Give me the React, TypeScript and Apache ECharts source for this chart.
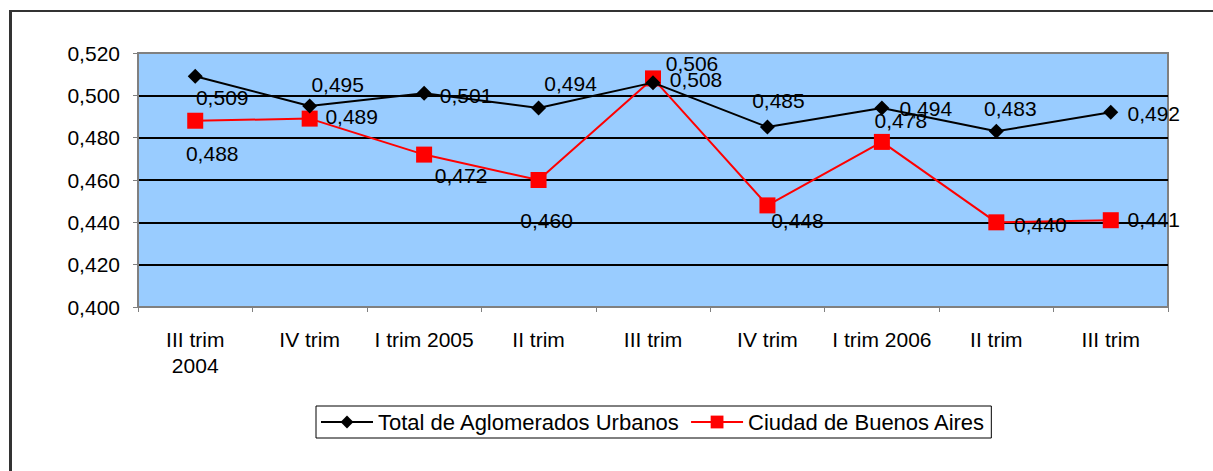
import React, { useEffect, useRef } from "react";
import * as echarts from "echarts";

const categories = [
  "III trim\n2004",
  "IV trim",
  "I trim 2005",
  "II trim",
  "III trim",
  "IV trim",
  "I trim 2006",
  "II trim",
  "III trim",
];
const totalAglomerados = [0.509, 0.495, 0.501, 0.494, 0.506, 0.485, 0.494, 0.483, 0.492];
const ciudadBuenosAires = [0.488, 0.489, 0.472, 0.46, 0.508, 0.448, 0.478, 0.44, 0.441];
const yTicks = { min: 0.4, max: 0.52, interval: 0.02 };

// label placement (styling only)
const totalLabelOffsets = [
  [27, 21], [28, -21], [42, 2], [32, -25], [39, -19], [11, -27], [44, 0], [14, -23], [43, 1],
];
const ciudadLabelOffsets = [
  [17, 33], [42, -2], [37, 21], [8, 40], [43, 1], [30, 15], [19, -21], [44, 2], [43, -1],
];

const FONT = "'Liberation Sans', Arial, sans-serif";
const fmt = (v: number) => v.toFixed(3).replace(".", ",");

export default function App() {
  const ref = useRef<HTMLDivElement>(null);
  useEffect(() => {
    if (!ref.current) return;
    const chart = echarts.init(ref.current, null, { renderer: "svg" });
    const mk = (vals: number[], offs: number[][]) =>
      vals.map((v, i) => ({
        value: v,
        label: { offset: offs[i] },
      }));
    chart.setOption({
      animation: false,
      backgroundColor: "#ffffff",
      textStyle: { fontFamily: FONT },
      grid: {
        left: 138,
        top: 53,
        right: 45,
        bottom: 164,
        show: true,
        backgroundColor: "#99CCFF",
        borderColor: "#808080",
        borderWidth: 2,
      },
      graphic: [
        { type: "line", shape: { x1: 10.5, y1: 10, x2: 10.5, y2: 480 }, style: { stroke: "#333", lineWidth: 3 } },
        { type: "line", shape: { x1: 9, y1: 11, x2: 1220, y2: 11 }, style: { stroke: "#333", lineWidth: 2 } },
      ],
      legend: {
        left: 316,
        top: 406,
        padding: [5, 6, 5, 4],
        borderColor: "#000",
        borderWidth: 1,
        itemWidth: 52,
        itemHeight: 16,
        itemGap: 10,
        textStyle: { fontSize: 22, color: "#000", fontFamily: FONT },
        data: ["Total de Aglomerados Urbanos", "Ciudad de Buenos Aires"],
      },
      xAxis: {
        type: "category",
        data: categories,
        boundaryGap: true,
        axisLine: { lineStyle: { color: "#808080", width: 2 } },
        axisTick: { show: true, length: 5, lineStyle: { color: "#808080", width: 1 } },
        axisLabel: { fontSize: 21, color: "#000", margin: 19, lineHeight: 26, fontFamily: FONT, interval: 0 },
        splitLine: { show: false },
      },
      yAxis: {
        type: "value",
        min: yTicks.min,
        max: yTicks.max,
        interval: yTicks.interval,
        axisLine: { show: true, lineStyle: { color: "#808080", width: 1 } },
        axisTick: { show: true, length: 5, lineStyle: { color: "#808080" } },
        axisLabel: { fontSize: 21, color: "#000", margin: 18, fontFamily: FONT, formatter: (v: number) => fmt(v) },
        splitLine: {
          show: true,
          lineStyle: {
            color: ["#808080", "#000", "#000", "#000", "#000", "#000", "#808080"],
            width: 2,
          },
        },
      },
      series: [
        {
          name: "Total de Aglomerados Urbanos",
          type: "line",
          data: mk(totalAglomerados, totalLabelOffsets),
          symbol: "diamond",
          symbolSize: 15,
          itemStyle: { color: "#000" },
          lineStyle: { color: "#000", width: 2 },
          z: 3,
          label: {
            show: true,
            position: "inside",
            fontSize: 21,
            color: "#000",
            fontFamily: FONT,
            formatter: (p: any) => fmt(p.value),
          },
        },
        {
          name: "Ciudad de Buenos Aires",
          type: "line",
          data: mk(ciudadBuenosAires, ciudadLabelOffsets),
          symbol: "rect",
          symbolSize: 16,
          itemStyle: { color: "#FF0000" },
          lineStyle: { color: "#FF0000", width: 2 },
          z: 2,
          label: {
            show: true,
            position: "inside",
            fontSize: 21,
            color: "#000",
            fontFamily: FONT,
            formatter: (p: any) => fmt(p.value),
          },
        },
      ],
    });
    return () => chart.dispose();
  }, []);
  return (
    <div
      ref={ref}
      style={{ position: "absolute", left: 0, top: 0, width: 1213, height: 471 }}
    />
  );
}
